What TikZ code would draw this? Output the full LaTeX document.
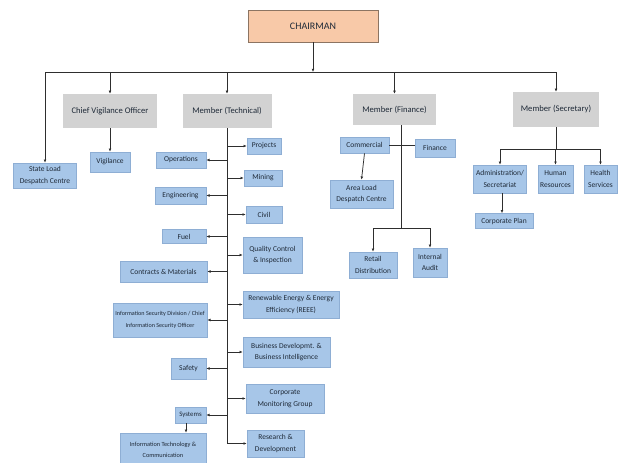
\documentclass[tikz,border=0pt]{standalone}
\usepackage{fontspec}
\setmainfont{Carlito}
\usetikzlibrary{arrows.meta}
\definecolor{boxblue}{HTML}{A7C6E8}
\definecolor{blueedge}{HTML}{8EAED4}
\definecolor{boxgray}{HTML}{D2D2D2}
\definecolor{chairfill}{HTML}{F8C9A8}
\definecolor{chairedge}{HTML}{8C7462}
\definecolor{linegray}{HTML}{2E2E2E}
\definecolor{txt}{HTML}{1F2A38}
\begin{document}
\begin{tikzpicture}[x=1pt,y=-1pt,
  bluebox/.style={draw=blueedge, fill=boxblue, inner sep=0pt, align=center, text=txt,
    font=\fontsize{7.5}{11.5}\selectfont, line width=0.6pt},
  smalltext/.style={font=\fontsize{6.1}{11.5}\selectfont},
  graybox/.style={fill=boxgray, inner sep=0pt, align=center, text=txt,
    font=\fontsize{8.6}{10}\selectfont},
  chairbox/.style={draw=chairedge, fill=chairfill, inner sep=0pt, align=center, text=txt,
    font=\fontsize{10}{12}\selectfont, line width=0.8pt},
  ln/.style={draw=linegray, line width=0.75pt},
  arr/.style={ln, -{Latex[length=3.2pt,width=2.8pt]}}]
\useasboundingbox (0,0) rectangle (630,463);
\clip (0,0) rectangle (630,463);
\fill[white] (0,0) rectangle (630,463);

% top level
\node[chairbox, minimum width=130pt, minimum height=32pt] (chair) at (313,26) {CHAIRMAN};
\node[graybox, minimum width=94pt, minimum height=34pt] (cvo) at (110,111) {Chief Vigilance Officer};
\node[graybox, minimum width=89pt, minimum height=34pt] (mtech) at (227,111) {Member (Technical)};
\node[graybox, minimum width=83pt, minimum height=31pt] (mfin) at (394.5,109.5) {Member (Finance)};
\node[graybox, minimum width=86pt, minimum height=35pt] (msec) at (556,109.5) {Member (Secretary)};
\node[bluebox, minimum width=63pt, minimum height=25pt] (sldc) at (45,175.5) {State Load\\Despatch Centre};
\node[bluebox, minimum width=40pt, minimum height=20pt] (vig) at (110,162) {Vigilance};

\coordinate (bar) at (0,72);
\draw[arr] (chair.south) -- (chair.south |- bar);
\draw[ln] (sldc.north |- bar) -- (msec.north |- bar);
\draw[arr] (sldc.north |- bar) -- (sldc.north);
\draw[arr] (cvo.north |- bar) -- (cvo.north);
\draw[arr] (mtech.north |- bar) -- (mtech.north);
\draw[arr] (mfin.north |- bar) -- (mfin.north);
\draw[arr] (msec.north |- bar) -- (msec.north);
\draw[arr] (cvo.south) -- (vig.north);

% Member (Technical) - left
\node[bluebox, minimum width=50pt, minimum height=16pt] (ops) at (181,160) {Operations};
\node[bluebox, minimum width=51pt, minimum height=17pt] (eng) at (180.5,195.5) {Engineering};
\node[bluebox, minimum width=44pt, minimum height=14pt] (fuel) at (184,236.5) {Fuel};
\node[bluebox, minimum width=87pt, minimum height=21pt] (cm) at (163.5,271.5) {Contracts \& Materials};
\node[bluebox, smalltext, minimum width=94pt, minimum height=34pt] (isd) at (160,320) {Information Security Division / Chief\\Information Security Officer};
\node[bluebox, minimum width=35pt, minimum height=21pt] (safety) at (188.5,368.5) {Safety};
\node[bluebox, font=\fontsize{6.8}{11.5}\selectfont, minimum width=31pt, minimum height=16pt] (sys) at (190.5,415) {Systems};
\node[bluebox, font=\fontsize{6.3}{11.5}\selectfont, minimum width=86pt, minimum height=34pt] (itc) at (163,450) {Information Technology \&\\Communication};

% Member (Technical) - right
\node[bluebox, minimum width=34pt, minimum height=16pt] (proj) at (264,146) {Projects};
\node[bluebox, minimum width=38pt, minimum height=16pt] (mining) at (263,178) {Mining};
\node[bluebox, minimum width=36pt, minimum height=17pt] (civil) at (264,214.5) {Civil};
\node[bluebox, minimum width=59pt, minimum height=36pt] (qc) at (272.5,255) {Quality Control\\\& Inspection};
\node[bluebox, minimum width=96pt, minimum height=27pt] (reee) at (291,304.5) {Renewable Energy \& Energy\\Efficiency (REEE)};
\node[bluebox, minimum width=87pt, minimum height=30pt] (bd) at (286.5,352) {Business Developmt. \&\\Business Intelligence};
\node[bluebox, minimum width=78pt, minimum height=29pt] (cmg) at (285,398.5) {Corporate\\Monitoring Group};
\node[bluebox, minimum width=57pt, minimum height=27pt] (rd) at (275.5,443.5) {Research \&\\Development};

\draw[ln] (mtech.south) -- (mtech.south |- rd.west);
\foreach \n in {ops,eng,fuel,cm,isd,safety,sys}
  \draw[arr] (mtech.south |- \n.east) -- (\n.east);
\foreach \n in {proj,mining,civil,qc,reee,bd,cmg,rd}
  \draw[arr] (mtech.south |- \n.west) -- (\n.west);
\draw[arr] (sys.south -| 186,0) -- (itc.north -| 186,0);

% Member (Finance)
\coordinate (finx) at (401,0);
\node[bluebox, minimum width=49pt, minimum height=16pt] (comm) at (364.5,145) {Commercial};
\node[bluebox, minimum width=40pt, minimum height=18pt] (fin) at (435,148) {Finance};
\node[bluebox, minimum width=63pt, minimum height=28pt] (aldc) at (361.5,194) {Area Load\\Despatch Centre};
\node[bluebox, minimum width=48pt, minimum height=26pt] (retail) at (373,265) {Retail\\Distribution};
\node[bluebox, minimum width=34pt, minimum height=29pt] (audit) at (430,262.5) {Internal\\Audit};
\coordinate (fbar) at (0,228);
\draw[ln] (mfin.south -| finx) -- (finx |- fbar);
\draw[ln] (comm.east) -- (comm.east -| fin.west);
\draw[arr] (comm.south) -- (aldc.north);
\draw[ln] (retail.north |- fbar) -- (audit.north |- fbar);
\draw[arr] (retail.north |- fbar) -- (retail.north);
\draw[arr] (audit.north |- fbar) -- (audit.north);

% Member (Secretary)
\node[bluebox, minimum width=53pt, minimum height=28pt] (admin) at (500,179) {Administration/\\Secretariat};
\node[bluebox, minimum width=35pt, minimum height=28pt] (hr) at (555.5,179) {Human\\Resources};
\node[bluebox, minimum width=33pt, minimum height=28pt] (hs) at (600.5,179) {Health\\Services};
\node[bluebox, minimum width=58pt, minimum height=15pt] (cplan) at (504,221) {Corporate Plan};
\coordinate (sbar) at (0,149);
\draw[ln] (msec.south) -- (msec.south |- sbar);
\draw[ln] (admin.north |- sbar) -- (hs.north |- sbar);
\draw[arr] (admin.north |- sbar) -- (admin.north);
\draw[arr] (hr.north |- sbar) -- (hr.north);
\draw[arr] (hs.north |- sbar) -- (hs.north);
\draw[arr] (admin.south -| 502,0) -- (cplan.north -| 502,0);
\end{tikzpicture}
\end{document}
